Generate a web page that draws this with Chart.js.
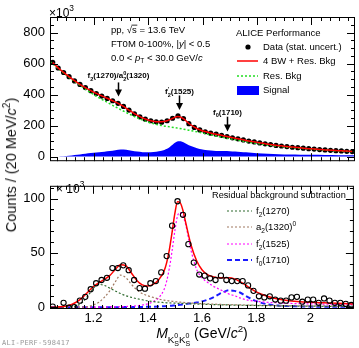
<!DOCTYPE html>
<html>
<head>
<meta charset="utf-8">
<script src="https://cdn.jsdelivr.net/npm/chart.js@4.4.0/dist/chart.umd.min.js"></script>
<style>
	body { margin: 0; background: #fff; }
	#wrap { position: relative; width: 359px; height: 348px; overflow: hidden; background: #fff; font-family: "Liberation Sans", Arial, sans-serif; }
	#cTop { position: absolute; left: 0; top: 0; }
	#cBot { position: absolute; left: 0; top: 173px; }
	#ytitle { position: absolute; left: 11px; top: 165px; transform: translate(-50%, -50%) rotate(-90deg); font-size: 14.5px; font-weight: 400; white-space: nowrap; color: #111; }
	#ytitle sup { font-size: 10px; line-height: 0; }
	#wm { position: absolute; left: 2px; top: 339px; font: 7px "DejaVu Sans Mono", monospace; color: #999; letter-spacing: 0.3px; }
</style>
</head>
<body>
<div id="wrap">
	<canvas id="cTop" width="359" height="174"></canvas>
	<canvas id="cBot" width="359" height="175"></canvas>
	<div id="ytitle">Counts / (20 MeV/<i>c</i><sup>2</sup>)</div>
	<div id="wm">ALI-PERF-598417</div>
</div>
<script>
	// bin centres (GeV/c2), 20 MeV bins
	var mass = [1.05, 1.07, 1.09, 1.11, 1.13, 1.15, 1.17, 1.19, 1.21, 1.23, 1.25, 1.27, 1.29, 1.31, 1.33, 1.35, 1.37, 1.39, 1.41, 1.43,
		1.45, 1.47, 1.49, 1.51, 1.53, 1.55, 1.57, 1.59, 1.61, 1.63, 1.65, 1.67, 1.69, 1.71, 1.73, 1.75, 1.77, 1.79, 1.81, 1.83,
		1.85, 1.87, 1.89, 1.91, 1.93, 1.95, 1.97, 1.99, 2.01, 2.03, 2.05, 2.07, 2.09, 2.11, 2.13, 2.15];

	// top panel (x10^3)
	var topData = [607, 571, 542, 515, 488, 465, 445, 425, 406, 390, 375, 360, 343, 323, 300, 276, 256, 241, 231, 224,
		222, 231, 247, 262, 245, 212, 188, 172, 160, 151, 144, 137, 129, 121, 114, 107, 100, 94, 88, 82,
		77, 72, 68, 64, 60, 57, 54, 51, 48, 45, 43, 40, 38, 36, 34, 32];
	var fitTop = [606, 572, 543, 515, 489, 466, 445, 425, 407, 391, 376, 360, 343, 323, 300, 277, 257, 242, 231, 225,
		224, 231, 246, 259, 244, 213, 190, 173, 161, 152, 144, 137, 129, 122, 115, 108, 101, 95, 89, 83,
		78, 73, 69, 65, 61, 58, 54, 51, 49, 46, 43, 41, 39, 37, 35, 33];
	var resMass = [1.04, 1.10, 1.15, 1.20, 1.25, 1.30, 1.35, 1.40, 1.45, 1.50, 1.55, 1.60, 1.65, 1.70, 1.75, 1.80, 1.85, 1.90, 1.95, 2.00, 2.05, 2.10, 2.16];
	var resBkg = [612, 525, 460, 400, 350, 302, 258, 222, 200, 186, 170, 152, 133, 115, 99, 85, 73, 63, 55, 48, 42, 36, 31];

	// bottom panel (x10^3), residual after background subtraction
	var botData = [0.5, null, 4, -0.5, 0, 6, 9.5, 16.5, 22, 25, 27, 36, 36, 38.5, 34, 25, 17.5, 17, 22, 24,
		32, 47, 75, 97.5, 85, 58, 41, 30, 29, 26.5, 25, 29, 25, 24, 24, 24, 20, 15, 10, 9,
		10, 7, 6, 6, 9, 9.5, 5, 7, 7, 4, 8, 6, 4, 4, 3, 2];

	var compMass = [1.04, 1.06, 1.08, 1.10, 1.12, 1.14, 1.16, 1.18, 1.20, 1.22, 1.24, 1.26, 1.28, 1.30, 1.32, 1.34, 1.36, 1.38, 1.40, 1.42, 1.44, 1.46,
		1.47, 1.48, 1.49, 1.50, 1.51, 1.52, 1.53, 1.54,
		1.56, 1.58, 1.60, 1.62, 1.64, 1.66, 1.68, 1.70, 1.72, 1.74, 1.76, 1.78, 1.80,
		1.84, 1.88, 1.92, 1.96, 2.00, 2.05, 2.10, 2.16];
	// signal band of the top panel
	var sigTop = [0, 0.5, 2, 4, 7, 11, 16, 21, 25, 28, 31, 35, 40, 45, 44, 38, 32, 28, 27, 29, 34, 43,
		50, 62, 76, 90, 99, 98, 92, 83,
		66, 54, 46, 41, 38, 36, 35, 34, 32, 30, 27, 24, 22,
		18, 15, 13, 12, 11, 10, 9, 8];
	var fitBot = [0, 0, 0.3, 1, 2.5, 5, 9, 14, 19, 22.5, 25.5, 29, 34.5, 39, 38, 31.5, 24.5, 20.5, 19.5, 21, 25, 33,
		41, 53, 69, 86, 97, 96, 89, 78,
		57, 43, 34.5, 30, 28, 27, 27, 27, 26, 23.5, 20.5, 17, 14,
		10, 7.5, 6, 5, 4.5, 4, 3.5, 3];
	var f2_1270 = [0, 0, 0, 0.2, 0.5, 1.5, 4.5, 10.5, 17.5, 21, 20, 17.5, 15, 12.5, 10.5, 9, 7.8, 6.8, 5.8, 5.1, 4.6, 4.2,
		4, 3.9, 3.8, 3.7, 3.6, 3.5, 3.4, 3.3,
		3.1, 2.9, 2.7, 2.5, 2.4, 2.2, 2.1, 2, 1.9, 1.8, 1.7, 1.6, 1.5,
		1.4, 1.2, 1.1, 1, 0.9, 0.8, 0.7, 0.6];
	var a2_1320 = [0, 0, 0, 0, 0, 0, 0.1, 0.5, 2, 4.5, 9, 15, 23, 29.5, 27, 21, 16, 12.5, 10.5, 9, 7.5, 6.5,
		6.1, 5.7, 5.4, 5.1, 4.8, 4.6, 4.4, 4.2,
		3.8, 3.5, 3.2, 3, 2.8, 2.6, 2.4, 2.3, 2.2, 2.1, 2, 1.9, 1.8,
		1.6, 1.5, 1.4, 1.3, 1.2, 1.1, 1, 0.9];
	var f2p_1525 = [0, 0, 0, 0, 0, 0, 0, 0, 0, 0.1, 0.1, 0.2, 0.3, 0.4, 0.6, 0.9, 1.3, 2, 3, 5, 8.5, 16,
		24, 36, 52, 70, 84, 87, 84, 76,
		52, 35, 27, 23, 19.5, 17, 14.5, 12, 10.5, 8.5, 7, 6, 5.5,
		4.5, 4, 3.5, 3.2, 3, 2.8, 2.6, 2.5];
	var f0_1710 = [0, 0, 0, 0, 0, 0, 0, 0, 0, 0, 0, 0, 0, 0, 0.1, 0.1, 0.2, 0.2, 0.3, 0.4, 0.6, 0.9,
		1, 1.2, 1.4, 1.6, 1.9, 2.2, 2.6, 3,
		3.6, 4.2, 5.2, 6.8, 8.7, 11.5, 14, 15.5, 15, 13.5, 10.5, 7.8, 5.5,
		2.7, 1.5, 1, 0.7, 0.5, 0.4, 0.3, 0.3];

	// arrows in the top panel: mass, arrow start, arrow tip, label height (x10^3)
	var arrows = [
		{ m: 1.288, from: 478, to: 388, lab: 522, text: [{ t: 'f' }, { t: '2', f: 0.7, dy: 0.3 }, { t: '(1270)/a' }, { t: '0', f: 0.7, dy: -0.45, w0: 1 }, { t: '2', f: 0.7, dy: 0.3 }, { t: '(1320)' }] },
		{ m: 1.512, from: 394, to: 300, lab: 420, text: [{ t: 'f' }, { t: "'", f: 0.7, dy: -0.4, w0: 1 }, { t: '2', f: 0.7, dy: 0.3 }, { t: '(1525)' }] },
		{ m: 1.69, from: 257, to: 161, lab: 288, text: [{ t: 'f' }, { t: '0', f: 0.7, dy: 0.3 }, { t: '(1710)' }] }
	];

	var FAM = '"Liberation Sans", Arial, sans-serif';
	Chart.defaults.font.family = FAM;
	Chart.defaults.color = '#000';

	function pts(xs, ys) {
		return xs.map(function (x, i) { return { x: x, y: ys[i] }; });
	}

	function fontOf(p, size, bold) {
		return (p.i ? 'italic ' : '') + (bold ? 'bold ' : '') + (size * (p.f || 1)).toFixed(1) + 'px ' + FAM;
	}

	// text with sub/superscripts, y = baseline
	function rich(ctx, x, y, parts, size, align, bold) {
		var w = parts.map(function (p) {
			ctx.font = fontOf(p, size, bold);
			return p.w0 ? 0 : ctx.measureText(p.t).width;
		});
		var total = w.reduce(function (s, v) { return s + v; }, 0);
		var cx = align === 'center' ? x - total / 2 : (align === 'right' ? x - total : x);
		ctx.textAlign = 'left';
		ctx.textBaseline = 'alphabetic';
		ctx.fillStyle = '#000';
		parts.forEach(function (p, i) {
			ctx.font = fontOf(p, size, bold);
			ctx.fillText(p.t, cx, y + size * (p.dy || 0));
			if (p.o) {
				var ow = ctx.measureText(p.t).width;
				ctx.fillRect(cx - 0.5, y - size * 0.82, ow + 1, 0.8);
			}
			cx += w[i];
		});
	}

	// frame + inward ticks on all four sides (ROOT style)
	var frameTicks = {
		id: 'frameTicks',
		afterDraw: function (chart, args, o) {
			var ctx = chart.ctx, a = chart.chartArea, sx = chart.scales.x, sy = chart.scales.y;
			ctx.save();
			ctx.strokeStyle = '#000';
			ctx.lineWidth = 1;
			ctx.beginPath();
			var i, v, p, len;
			for (i = Math.ceil(sx.min / o.xMinor); i * o.xMinor < sx.max; i++) {
				v = i * o.xMinor;
				len = Math.abs(v / o.xMajor - Math.round(v / o.xMajor)) < 1e-6 ? 8 : 4;
				p = Math.round(sx.getPixelForValue(v)) + 0.5;
				ctx.moveTo(p, a.bottom); ctx.lineTo(p, a.bottom - len);
				ctx.moveTo(p, a.top); ctx.lineTo(p, a.top + len);
			}
			for (i = Math.ceil(sy.min / o.yMinor); i * o.yMinor < sy.max; i++) {
				v = i * o.yMinor;
				len = Math.abs(v / o.yMajor - Math.round(v / o.yMajor)) < 1e-6 ? 8 : 4;
				p = Math.round(sy.getPixelForValue(v)) + 0.5;
				ctx.moveTo(a.left, p); ctx.lineTo(a.left + len, p);
				ctx.moveTo(a.right, p); ctx.lineTo(a.right - len, p);
			}
			ctx.stroke();
			ctx.strokeRect(a.left + 0.5, a.top + 0.5, a.right - a.left - 1, a.bottom - a.top - 1);
			ctx.restore();
		}
	};

	var topDecor = {
		id: 'topDecor',
		afterDraw: function (chart) {
			var ctx = chart.ctx, sx = chart.scales.x, sy = chart.scales.y;
			var ds = chart.data.datasets;
			ctx.save();
			rich(ctx, 49, 16.5, [{ t: '\u00d710' }, { t: '3', f: 0.7, dy: -0.45 }], 12, 'left');

			rich(ctx, 111, 32.5, [{ t: 'pp, \u221a' }, { t: 's', o: 1 }, { t: ' = 13.6 TeV' }], 9.5, 'left');
			rich(ctx, 111, 46.5, [{ t: 'FT0M 0-100%, |' }, { t: 'y', i: 1 }, { t: '| < 0.5' }], 9.5, 'left');
			rich(ctx, 111, 60.5, [{ t: '0.0 < ' }, { t: 'p', i: 1 }, { t: 'T', f: 0.7, dy: 0.3 }, { t: ' < 30.0 GeV/' }, { t: 'c', i: 1 }], 9.5, 'left');

			// legend
			rich(ctx, 236, 35.5, [{ t: 'ALICE Performance' }], 9.5, 'left');
			ctx.fillStyle = ds[1].pointBackgroundColor;
			ctx.beginPath(); ctx.arc(248, 47, 2.6, 0, Math.PI * 2); ctx.fill();
			rich(ctx, 263, 50.4, [{ t: 'Data (stat. uncert.)' }], 9.5, 'left');
			ctx.strokeStyle = ds[3].borderColor; ctx.lineWidth = ds[3].borderWidth;
			ctx.beginPath(); ctx.moveTo(237, 61); ctx.lineTo(258, 61); ctx.stroke();
			rich(ctx, 263, 64.4, [{ t: '4 BW + Res. Bkg' }], 9.5, 'left');
			ctx.strokeStyle = ds[2].borderColor; ctx.lineWidth = ds[2].borderWidth; ctx.setLineDash(ds[2].borderDash);
			ctx.beginPath(); ctx.moveTo(237, 76); ctx.lineTo(258, 76); ctx.stroke();
			ctx.setLineDash([]);
			rich(ctx, 263, 79.4, [{ t: 'Res. Bkg' }], 9.5, 'left');
			ctx.fillStyle = ds[0].backgroundColor;
			ctx.fillRect(237, 86, 22, 9);
			rich(ctx, 263, 93.4, [{ t: 'Signal' }], 9.5, 'left');

			// arrows
			arrows.forEach(function (ar) {
				var x = Math.round(sx.getPixelForValue(ar.m)) + 0.5;
				var y0 = sy.getPixelForValue(ar.from), y1 = sy.getPixelForValue(ar.to);
				ctx.strokeStyle = '#000'; ctx.lineWidth = 1.5;
				ctx.beginPath(); ctx.moveTo(x, y0); ctx.lineTo(x, y1 - 6); ctx.stroke();
				ctx.fillStyle = '#000';
				ctx.beginPath(); ctx.moveTo(x - 3.5, y1 - 7); ctx.lineTo(x + 3.5, y1 - 7); ctx.lineTo(x, y1); ctx.closePath(); ctx.fill();
				rich(ctx, x, sy.getPixelForValue(ar.lab) + 2.8, ar.text, 8, 'center', true);
			});
			ctx.restore();
		}
	};

	var botDecor = {
		id: 'botDecor',
		afterDraw: function (chart) {
			var ctx = chart.ctx, ds = chart.data.datasets;
			ctx.save();
			rich(ctx, 56, 19.5, [{ t: '\u00d7 10' }, { t: '3', f: 0.7, dy: -0.45 }], 12, 'left');
			rich(ctx, 212, 25.4, [{ t: 'Residual background subtraction' }], 9.2, 'left');
			var rows = [
				{ d: ds[2], y: 38, text: [{ t: 'f' }, { t: '2', f: 0.7, dy: 0.3 }, { t: '(1270)' }] },
				{ d: ds[3], y: 54, text: [{ t: 'a' }, { t: '2', f: 0.7, dy: 0.3 }, { t: '(1320)' }, { t: '0', f: 0.7, dy: -0.45 }] },
				{ d: ds[4], y: 71, text: [{ t: 'f' }, { t: "'", f: 0.7, dy: -0.4, w0: 1 }, { t: '2', f: 0.7, dy: 0.3 }, { t: '(1525)' }] },
				{ d: ds[5], y: 87, text: [{ t: 'f' }, { t: '0', f: 0.7, dy: 0.3 }, { t: '(1710)' }] }
			];
			rows.forEach(function (r) {
				ctx.strokeStyle = r.d.borderColor; ctx.lineWidth = r.d.borderWidth; ctx.setLineDash(r.d.borderDash);
				ctx.beginPath(); ctx.moveTo(227, r.y); ctx.lineTo(252, r.y); ctx.stroke();
				ctx.setLineDash([]);
				rich(ctx, 256, r.y + 3.4, r.text, 9.5, 'left');
			});
			// x axis title
			var a = chart.chartArea;
			rich(ctx, (a.left + a.right) / 2, 165, [
				{ t: 'M', i: 1 }, { t: 'K', f: 0.7, dy: 0.35 }, { t: '0', f: 0.5, dy: 0.02, w0: 1 }, { t: 'S', f: 0.5, dy: 0.6 },
				{ t: 'K', f: 0.7, dy: 0.35 }, { t: '0', f: 0.5, dy: 0.02, w0: 1 }, { t: 'S', f: 0.5, dy: 0.6 },
				{ t: ' (GeV/' }, { t: 'c', i: 1 }, { t: '2', f: 0.7, dy: -0.45 }, { t: ')' }
			], 14, 'center');
			ctx.restore();
		}
	};

	function yAxis(min, max, step) {
		return {
			min: min, max: max,
			afterFit: function (s) { s.width = 50; },
			grid: { display: false, drawTicks: false, tickLength: 0 },
			border: { display: false },
			ticks: { stepSize: step, includeBounds: false, padding: 5, font: { size: 13 }, color: '#000' }
		};
	}

	new Chart(document.getElementById('cTop'), {
		type: 'line',
		data: {
			datasets: [{
				label: 'Signal',
				data: pts(compMass, sigTop),
				fill: 'origin',
				backgroundColor: '#0000ff',
				borderColor: '#0000ff',
				borderWidth: 0,
				pointRadius: 0,
				cubicInterpolationMode: 'monotone',
				order: 3
			}, {
				label: 'Data (stat. uncert.)',
				data: pts(mass, topData),
				showLine: false,
				pointRadius: 2.6,
				pointBackgroundColor: '#000',
				pointBorderColor: '#000',
				pointBorderWidth: 0,
				order: 2
			}, {
				label: 'Res. Bkg',
				data: pts(resMass, resBkg),
				fill: false,
				borderColor: '#22dd22',
				borderDash: [2, 2],
				borderWidth: 1.5,
				pointRadius: 0,
				cubicInterpolationMode: 'monotone',
				order: 1
			}, {
				label: '4 BW + Res. Bkg',
				data: pts(mass, fitTop),
				fill: false,
				borderColor: '#ff0000',
				borderWidth: 1.5,
				pointRadius: 0,
				cubicInterpolationMode: 'monotone',
				order: 0
			}]
		},
		options: {
			responsive: false,
			animation: false,
			events: [],
			layout: { padding: { top: 17, right: 4, bottom: 1, left: 0 } },
			plugins: {
				legend: { display: false },
				tooltip: { enabled: false },
				frameTicks: { xMajor: 0.2, xMinor: 0.2 / 6, yMajor: 200, yMinor: 50 }
			},
			scales: {
				x: { type: 'linear', min: 1.04, max: 2.16, display: false },
				y: yAxis(-30, 900, 200)
			}
		},
		plugins: [frameTicks, topDecor]
	});

	new Chart(document.getElementById('cBot'), {
		type: 'line',
		data: {
			datasets: [{
				label: 'Data',
				data: pts(mass, botData),
				showLine: false,
				pointRadius: 2.6,
				pointBackgroundColor: 'rgba(0,0,0,0)',
				pointBorderColor: '#000',
				pointBorderWidth: 1.1,
				order: 0
			}, {
				label: 'Fit',
				data: pts(compMass, fitBot),
				fill: false,
				borderColor: '#ff0000',
				borderWidth: 1.5,
				pointRadius: 0,
				cubicInterpolationMode: 'monotone',
				order: 1
			}, {
				label: 'f2(1270)',
				data: pts(compMass, f2_1270),
				fill: false,
				borderColor: '#2f6b2f',
				borderDash: [2, 2],
				borderWidth: 1.2,
				pointRadius: 0,
				cubicInterpolationMode: 'monotone',
				order: 2
			}, {
				label: 'a2(1320)0',
				data: pts(compMass, a2_1320),
				fill: false,
				borderColor: '#a07860',
				borderDash: [2, 2],
				borderWidth: 1.2,
				pointRadius: 0,
				cubicInterpolationMode: 'monotone',
				order: 2
			}, {
				label: "f'2(1525)",
				data: pts(compMass, f2p_1525),
				fill: false,
				borderColor: '#ff00ff',
				borderDash: [2, 2],
				borderWidth: 1.2,
				pointRadius: 0,
				cubicInterpolationMode: 'monotone',
				order: 2
			}, {
				label: 'f0(1710)',
				data: pts(compMass, f0_1710),
				fill: false,
				borderColor: '#1a1aff',
				borderDash: [5, 3],
				borderWidth: 2,
				pointRadius: 0,
				cubicInterpolationMode: 'monotone',
				order: 2
			}]
		},
		options: {
			responsive: false,
			animation: false,
			events: [],
			layout: { padding: { top: 0, right: 4, bottom: 0, left: 0 } },
			plugins: {
				legend: { display: false },
				tooltip: { enabled: false },
				frameTicks: { xMajor: 0.2, xMinor: 0.2 / 6, yMajor: 50, yMinor: 10 }
			},
			scales: {
				x: {
					type: 'linear', min: 1.04, max: 2.16,
					afterFit: function (s) { s.height = 39; },
					grid: { display: false, drawTicks: false, tickLength: 0 },
					border: { display: false },
					ticks: {
						stepSize: 0.2, includeBounds: false, padding: 2, maxRotation: 0,
						font: { size: 13 }, color: '#000',
						callback: function (v) { return String(+v.toFixed(2)); }
					}
				},
				y: yAxis(-1.7, 111.7, 50)
			}
		},
		plugins: [frameTicks, botDecor]
	});
</script>
</body>
</html>
